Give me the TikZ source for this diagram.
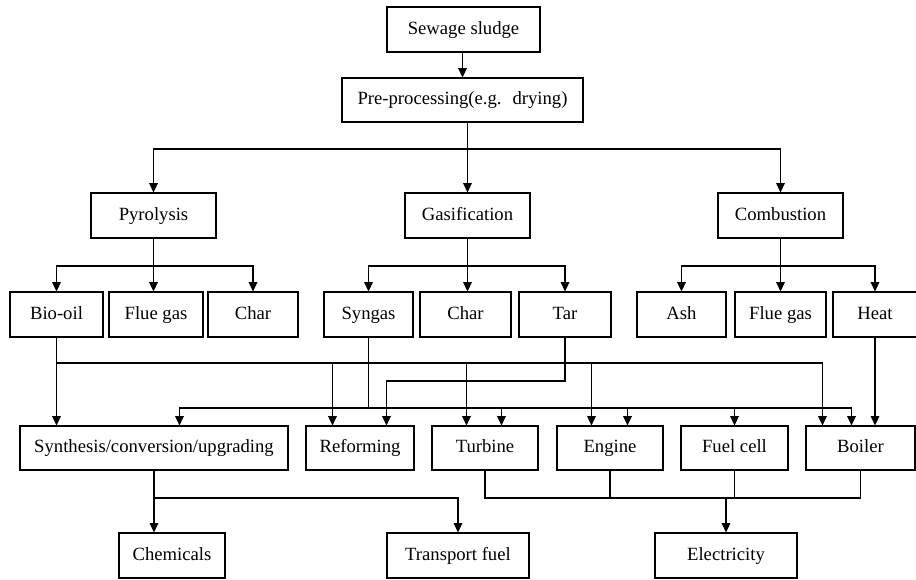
\documentclass[tikz,border=0pt]{standalone}
\usepackage{fontspec}
\setmainfont{Liberation Serif}
\usepackage{tikz}
\usetikzlibrary{arrows.meta,positioning,calc}

\begin{document}
\begin{tikzpicture}[
  x=0.75pt, y=-0.75pt,
  box/.style={draw, line width=0.8pt, inner sep=0pt, align=center, text height=2ex, text depth=0.4ex, font=\fontsize{14}{16}\selectfont},
  arr/.style={line width=0.8pt, -{Triangle[width=6.5pt,length=7pt]}},
  bus/.style={line width=0.8pt},
]
\useasboundingbox (0,0) rectangle (916,580);
% feedstock and pre-treatment
\node[box, minimum width=153*0.75pt, minimum height=45*0.75pt] (sludge) at (463.5,29.5) {Sewage sludge};
\node[box, minimum width=241*0.75pt, minimum height=44*0.75pt] (pre) at (462.5,100) {Pre-processing(e.g.~ drying)};
% conversion routes
\node[box, minimum width=125*0.75pt, minimum height=45*0.75pt] (pyro) at (153.5,215.5) {Pyrolysis};
\node[box, minimum width=125*0.75pt, minimum height=45*0.75pt] (gasif) at (467.5,215.5) {Gasification};
\node[box, minimum width=125*0.75pt, minimum height=45*0.75pt] (comb) at (780.5,215.5) {Combustion};
% products
\node[box, minimum width=93*0.75pt, minimum height=45*0.75pt] (biooil) at (56.5,314.5) {Bio-oil};
\node[box, minimum width=94*0.75pt, minimum height=45*0.75pt] (flue1) at (156,314.5) {Flue gas};
\node[box, minimum width=90*0.75pt, minimum height=45*0.75pt] (char1) at (253,314.5) {Char};
\node[box, minimum width=89*0.75pt, minimum height=45*0.75pt] (syngas) at (368.5,314.5) {Syngas};
\node[box, minimum width=91*0.75pt, minimum height=45*0.75pt] (char2) at (465.5,314.5) {Char};
\node[box, minimum width=92*0.75pt, minimum height=45*0.75pt] (tar) at (565,314.5) {Tar};
\node[box, minimum width=89*0.75pt, minimum height=45*0.75pt] (ash) at (681.5,314.5) {Ash};
\node[box, minimum width=91*0.75pt, minimum height=45*0.75pt] (flue2) at (780.5,314.5) {Flue gas};
\node[box, minimum width=84*0.75pt, minimum height=45*0.75pt] (heat) at (875,314.5) {Heat};
% utilisation
\node[box, minimum width=268*0.75pt, minimum height=44*0.75pt] (synth) at (154,448) {Synthesis/conversion/upgrading};
\node[box, minimum width=108*0.75pt, minimum height=44*0.75pt] (reform) at (360,448) {Reforming};
\node[box, minimum width=106*0.75pt, minimum height=44*0.75pt] (turbine) at (485,448) {Turbine};
\node[box, minimum width=106*0.75pt, minimum height=44*0.75pt] (engine) at (610,448) {Engine};
\node[box, minimum width=107*0.75pt, minimum height=44*0.75pt] (fuelcell) at (734.5,448) {Fuel cell};
\node[box, minimum width=109*0.75pt, minimum height=44*0.75pt] (boiler) at (860.5,448) {Boiler};
% end products
\node[box, minimum width=106*0.75pt, minimum height=45*0.75pt] (chem) at (172,555.5) {Chemicals};
\node[box, minimum width=142*0.75pt, minimum height=45*0.75pt] (transport) at (458,555.5) {Transport fuel};
\node[box, minimum width=142*0.75pt, minimum height=45*0.75pt] (elec) at (726,555.5) {Electricity};

% bus heights
\coordinate (busR) at (0,149);
\coordinate (busP) at (0,266);
\coordinate (busA) at (0,363);
\coordinate (busB) at (0,381);
\coordinate (busC) at (0,408);
\coordinate (busD) at (0,498);
% drop points on the utilisation boxes
\coordinate (dRefA) at ($(reform.north west)+(27,0)$);
\coordinate (dRefB) at ($(reform.north west)+(81,0)$);
\coordinate (dTurA) at ($(turbine.north west)+(35,0)$);
\coordinate (dTurC) at ($(turbine.north west)+(70,0)$);
\coordinate (dEngA) at ($(engine.north west)+(35,0)$);
\coordinate (dEngC) at ($(engine.north west)+(71,0)$);
\coordinate (dBoiA) at ($(boiler.north west)+(17,0)$);
\coordinate (dBoiC) at ($(boiler.north west)+(46,0)$);
\coordinate (dSynC) at ($(synth.north west)+(160,0)$);

% top part
\draw[arr] (sludge.south -| pre.north) -- (pre.north);
\draw[bus] (pre.south -| gasif.north) -- (gasif.north |- busR);
\draw[arr] (gasif.north |- busR) -- (gasif.north);
\draw[arr] (gasif.north |- busR) -| (pyro.north);
\draw[arr] (gasif.north |- busR) -| (comb.north);

% route products
\draw[arr] (pyro.south) -- (pyro.south |- flue1.north);
\draw[arr] (pyro.south |- busP) -| (biooil.north);
\draw[arr] (pyro.south |- busP) -| (char1.north);
\draw[arr] (gasif.south) -- (gasif.south |- char2.north);
\draw[arr] (gasif.south |- busP) -| (syngas.north);
\draw[arr] (gasif.south |- busP) -| (tar.north);
\draw[arr] (comb.south) -- (comb.south |- flue2.north);
\draw[arr] (comb.south |- busP) -| (ash.north);
\draw[arr] (comb.south |- busP) -| (heat.north);

% bio-oil
\draw[arr] (biooil.south) -- (biooil.south |- synth.north);
\draw[arr] (biooil.south |- busA) -| (dBoiA);
\draw[arr] (dRefA |- busA) -- (dRefA);
\draw[arr] (dTurA |- busA) -- (dTurA);
\draw[arr] (dEngA |- busA) -- (dEngA);
% tar
\draw[arr] (tar.south) |- (busB -| dRefB) -- (dRefB);
% syngas
\draw[bus] (syngas.south) -- (syngas.south |- busC);
\draw[arr] (dBoiC |- busC) -| (dSynC);
\draw[arr] (dSynC |- busC) -| (dBoiC);
\draw[arr] (dTurC |- busC) -- (dTurC);
\draw[arr] (dEngC |- busC) -- (dEngC);
\draw[arr] (fuelcell.north |- busC) -- (fuelcell.north);
% heat
\draw[arr] (heat.south) -- (heat.south |- boiler.north);

% end products
\draw[arr] (synth.south) -- (synth.south |- chem.north);
\draw[arr] (synth.south |- busD) -| (transport.north);
\draw[bus] (turbine.south) |- (busD -| boiler.south) -- (boiler.south);
\draw[bus] (engine.south) -- (engine.south |- busD);
\draw[bus] (fuelcell.south) -- (fuelcell.south |- busD);
\draw[arr] (elec.north |- busD) -- (elec.north);
\end{tikzpicture}
\end{document}
